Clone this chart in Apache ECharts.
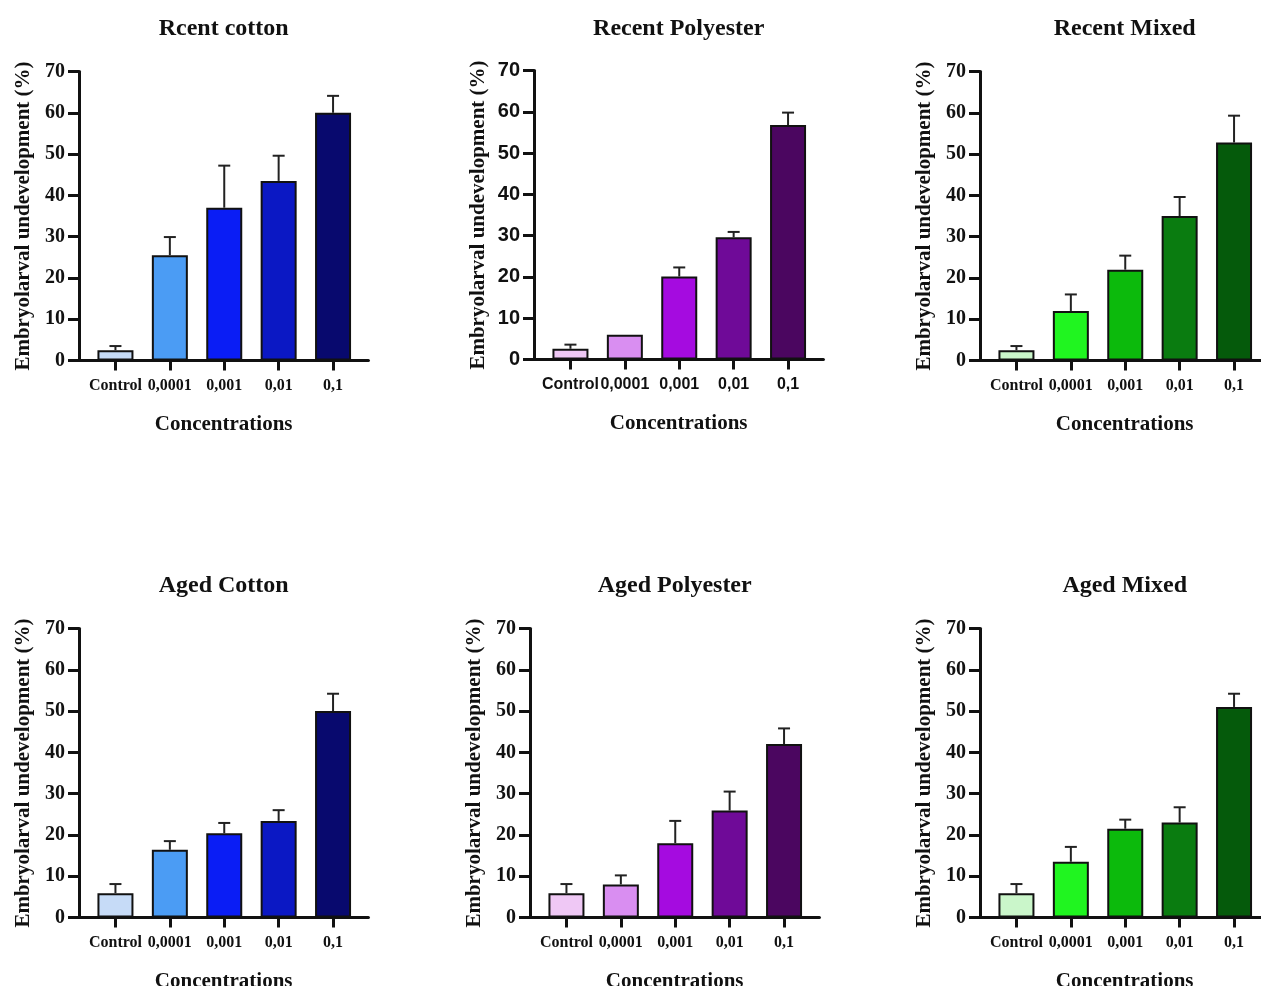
<!DOCTYPE html>
<html>
<head>
<meta charset="utf-8">
<script src="https://cdn.jsdelivr.net/npm/echarts@6/dist/echarts.min.js"></script>
<style>
html,body{margin:0;padding:0;background:#fff;}
#chart{width:1261px;height:986px;}
</style>
</head>
<body>
<div id="chart"></div>
<script>
// ---- data ----
const categories = ['Control', '0,0001', '0,001', '0,01', '0,1'];
const yTickValues = [0, 10, 20, 30, 40, 50, 60, 70];
const panelTitles = ['Rcent cotton', 'Recent Polyester', 'Recent Mixed', 'Aged Cotton', 'Aged Polyester', 'Aged Mixed'];

const recentCottonMean = [2.5, 25.5, 37.0, 43.5, 60.0];
const recentCottonErr  = [1.0, 4.4, 10.2, 6.1, 4.1];
const recentPolyMean   = [2.6, 6.0, 20.1, 29.6, 56.8];
const recentPolyErr    = [1.0, 0, 2.2, 1.3, 3.0];
const recentMixedMean  = [2.5, 12.0, 22.0, 35.0, 52.8];
const recentMixedErr   = [1.0, 4.0, 3.4, 4.6, 6.5];
const agedCottonMean   = [5.9, 16.4, 20.4, 23.4, 50.0];
const agedCottonErr    = [2.2, 2.1, 2.5, 2.6, 4.2];
const agedPolyMean     = [5.9, 8.0, 18.0, 25.9, 42.0];
const agedPolyErr      = [2.2, 2.2, 5.4, 4.6, 3.8];
const agedMixedMean    = [5.9, 13.5, 21.5, 23.0, 51.0];
const agedMixedErr     = [2.2, 3.6, 2.2, 3.7, 3.2];

const cottonColors = ['#c6dbf7', '#4b9cf4', '#0a1df5', '#0b18c4', '#08096e'];
const polyColors   = ['#efc8f5', '#d98ef1', '#a50be0', '#6f0a98', '#4b0660'];
const mixedColors  = ['#caf6ca', '#20f520', '#0cba0c', '#0a7c10', '#055a0b'];

const yName = 'Embryolarval undevelopment (%)';
const xName = 'Concentrations';

// ---- layout ----
const SERIF = '"Liberation Serif","Times New Roman",serif';
const SANS = '"Liberation Sans",Arial,sans-serif';
const panels = [
  {title: panelTitles[0], mean: recentCottonMean, err: recentCottonErr, colors: cottonColors, left: 79,  top: 71.5,  titleY: 29,  font: SERIF},
  {title: panelTitles[1], mean: recentPolyMean,   err: recentPolyErr,   colors: polyColors,   left: 534, top: 70.5,  titleY: 29,  font: SANS},
  {title: panelTitles[2], mean: recentMixedMean,  err: recentMixedErr,  colors: mixedColors,  left: 980, top: 71.5,  titleY: 29,  font: SERIF},
  {title: panelTitles[3], mean: agedCottonMean,   err: agedCottonErr,   colors: cottonColors, left: 79,  top: 628.5, titleY: 586, font: SERIF},
  {title: panelTitles[4], mean: agedPolyMean,     err: agedPolyErr,     colors: polyColors,   left: 530, top: 628.5, titleY: 586, font: SERIF},
  {title: panelTitles[5], mean: agedMixedMean,    err: agedMixedErr,    colors: mixedColors,  left: 980, top: 628.5, titleY: 586, font: SERIF}
];
const XMIN = -0.67, XMAX = 4.65, SPACING = 54.4;
const W = (XMAX - XMIN) * SPACING;
const H = 289;

const option = {
  backgroundColor: '#ffffff',
  animation: false,
  graphic: [], grid: [], xAxis: [], yAxis: [], series: []
};

panels.forEach((p, i) => {
  option.grid.push({left: p.left, top: p.top, width: W, height: H, containLabel: false, outerBoundsMode: 'none'});
  option.graphic.push({
    type: 'text',
    x: p.left + W / 2, y: p.titleY,
    style: {text: p.title, align: 'center', verticalAlign: 'middle',
            font: 'bold 24px ' + SERIF, fill: '#111'}
  });
  option.xAxis.push({
    type: 'value', gridIndex: i, min: XMIN, max: XMAX,
    splitLine: {show: false},
    axisLine: {show: true, onZero: false, lineStyle: {color: '#111', width: 3}},
    axisTick: {show: true, customValues: [0, 1, 2, 3, 4], length: 10, lineStyle: {color: '#111', width: 3}},
    axisLabel: {
      show: true, customValues: [0, 1, 2, 3, 4], margin: 17,
      formatter: v => categories[Math.round(v)],
      fontFamily: p.font, fontWeight: 'bold', fontSize: 16, color: '#111'
    },
    name: xName, nameLocation: 'middle', nameGap: 54,
    nameTextStyle: {fontFamily: SERIF, fontWeight: 'bold', fontSize: 21, color: '#111'}
  });
  option.yAxis.push({
    type: 'value', gridIndex: i, min: 0, max: 70, interval: 10,
    splitLine: {show: false},
    axisLine: {show: true, onZero: false, lineStyle: {color: '#111', width: 3}},
    axisTick: {show: true, length: 11, lineStyle: {color: '#111', width: 3}},
    axisLabel: {
      margin: 14,
      formatter: v => yTickValues.includes(v) ? String(v) : '',
      fontFamily: p.font, fontWeight: 'bold', fontSize: 20, color: '#111'
    },
    name: yName, nameLocation: 'middle', nameGap: 45, nameRotate: 90,
    nameTextStyle: {fontFamily: SERIF, fontWeight: 'bold', fontSize: 21, color: '#111'}
  });
  option.series.push({
    type: 'bar', xAxisIndex: i, yAxisIndex: i,
    barWidth: 36,
    data: p.mean.map((m, k) => ({value: [k, m], itemStyle: {color: p.colors[k], borderColor: '#111', borderWidth: 2}})),
    z: 2
  });
  option.series.push({
    type: 'custom', xAxisIndex: i, yAxisIndex: i, z: 3,
    data: p.mean.map((m, k) => [k, m, m + p.err[k]]),
    renderItem: function (params, api) {
      const x = api.value(0), lo = api.value(1), hi = api.value(2);
      if (hi - lo < 0.05) return {type: 'group', children: []};
      const a = api.coord([x, lo]);
      const b = api.coord([x, hi]);
      const style = {stroke: '#222', lineWidth: 2, fill: null};
      return {
        type: 'group',
        children: [
          {type: 'line', shape: {x1: a[0], y1: a[1], x2: b[0], y2: b[1]}, style: style},
          {type: 'line', shape: {x1: b[0] - 6, y1: b[1], x2: b[0] + 6, y2: b[1]}, style: style}
        ]
      };
    }
  });
});

const chart = echarts.init(document.getElementById('chart'), null, {renderer: 'canvas'});
chart.setOption(option);
</script>
</body>
</html>
